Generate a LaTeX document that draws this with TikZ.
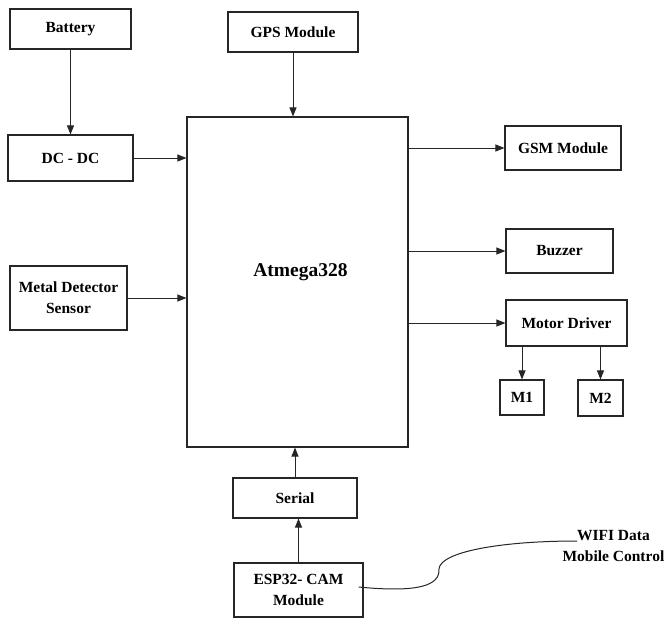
\documentclass[tikz,border=0pt]{standalone}
\usepackage{fontspec}
\setmainfont{Liberation Serif}
\usetikzlibrary{arrows.meta}
\begin{document}
\begin{tikzpicture}[x=1pt,y=-1pt,
  blk/.style={draw=black!85,line width=1.1pt,inner sep=0pt,align=center,font=\fontsize{15.5}{21}\selectfont\bfseries},
  arr/.style={draw=black!85,line width=1pt,-{Triangle[length=9pt,width=7pt]}}]
\useasboundingbox (0,0) rectangle (665,619);
\node[blk,minimum width=121pt,minimum height=40pt] (bat) at (70.5,29) {Battery};
\node[blk,minimum width=130pt,minimum height=40pt] (gps) at (293,32) {GPS Module};
\node[blk,minimum width=125pt,minimum height=46pt] (dc) at (70.5,158) {DC - DC};
\node[blk,minimum width=221pt,minimum height=330pt,
  label={[font=\fontsize{19.5}{22}\selectfont\bfseries,yshift=10pt,xshift=3pt]center:Atmega328}] (atm) at (297.5,282) {};
\node[blk,minimum width=117pt,minimum height=64pt] (met) at (68.5,298) {Metal Detector\\Sensor};
\node[blk,minimum width=116pt,minimum height=44pt] (gsm) at (563,148) {GSM Module};
\node[blk,minimum width=107pt,minimum height=44pt] (buz) at (559.5,251) {Buzzer};
\node[blk,minimum width=121pt,minimum height=46pt] (mot) at (566.5,323) {Motor Driver};
\node[blk,minimum width=44pt,minimum height=35pt] (m1) at (522,397.5) {M1};
\node[blk,minimum width=45pt,minimum height=36pt] (m2) at (600.5,398) {M2};
\node[blk,minimum width=124pt,minimum height=40pt] (ser) at (295,498) {Serial};
\node[blk,minimum width=129pt,minimum height=54pt] (esp) at (298.5,590) {ESP32- CAM\\Module};
\node[blk,draw=none,anchor=north west] (wifi) at (562,530) {WIFI Data\\Mobile Control};
\coordinate (w) at (577,541);
\draw[arr] (bat.south) -- (dc.north);
\draw[arr] (gps.south) -- (gps.south |- atm.north);
\draw[arr] (dc.east) -- (dc.east -| atm.west);
\draw[arr] (met.east) -- (met.east -| atm.west);
\draw[arr] (atm.east |- gsm.west) -- (gsm.west);
\draw[arr] (atm.east |- buz.west) -- (buz.west);
\draw[arr] (atm.east |- mot.west) -- (mot.west);
\draw[arr] (m1.north |- mot.south) -- (m1.north);
\draw[arr] (m2.north |- mot.south) -- (m2.north);
\draw[arr] (ser.north) -- (ser.north |- atm.south);
\draw[arr] (esp.north) -- (esp.north |- ser.south);
\draw[draw=black!85,line width=1pt] ([xshift=-5pt,yshift=3pt]esp.east) .. controls (420,593) and (440,585) .. (439,569) .. controls (440,552) and (500,541) .. (w);
\end{tikzpicture}
\end{document}
